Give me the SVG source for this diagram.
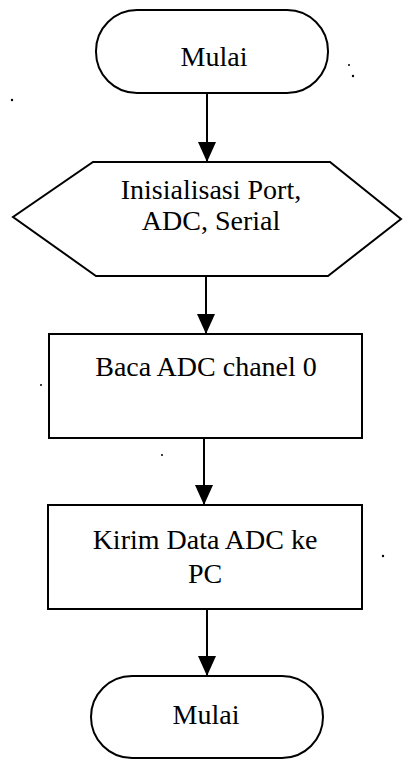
<svg xmlns="http://www.w3.org/2000/svg" width="403" height="761" viewBox="0 0 403 761">
<style>
.shape{fill:#fff;stroke:#000;stroke-width:2}
.lbl{font-family:"Liberation Serif","Times New Roman",serif;font-size:28px;fill:#000;text-anchor:middle}
.conn{stroke:#000;stroke-width:2;fill:none}
.speck{fill:#000}
</style>
<defs>
<marker id="ah" markerUnits="userSpaceOnUse" markerWidth="20" markerHeight="18" refX="20" refY="9" orient="auto">
<path d="M0,0 L20,9 L0,18 Z" fill="#000"/>
</marker>
</defs>
<rect width="403" height="761" fill="#fff"/>
<g id="start">
<rect class="shape" x="96" y="10" width="232" height="83" rx="41" ry="41"/>
<text class="lbl" x="214" y="66">Mulai</text>
</g>
<g id="init">
<polygon class="shape" points="93,162 330,162 401,219 328,276 96,276 13,217"/>
<text class="lbl" x="211" y="199">Inisialisasi Port,</text>
<text class="lbl" x="211" y="230">ADC, Serial</text>
</g>
<g id="read">
<rect class="shape" x="49" y="334" width="313" height="104"/>
<text class="lbl" x="206" y="376">Baca ADC chanel 0</text>
</g>
<g id="send">
<rect class="shape" x="48" y="505" width="314" height="104"/>
<text class="lbl" x="205" y="549">Kirim Data ADC ke</text>
<text class="lbl" x="205" y="583">PC</text>
</g>
<g id="end">
<rect class="shape" x="91" y="676" width="232" height="82" rx="41" ry="41"/>
<text class="lbl" x="206" y="724">Mulai</text>
</g>
<g id="connectors">
<line class="conn" x1="207" y1="93" x2="207" y2="162" marker-end="url(#ah)"/>
<line class="conn" x1="206" y1="276" x2="206" y2="334" marker-end="url(#ah)"/>
<line class="conn" x1="204" y1="438" x2="204" y2="505" marker-end="url(#ah)"/>
<line class="conn" x1="207" y1="609" x2="207" y2="676" marker-end="url(#ah)"/>
</g>
<g id="specks">
<circle class="speck" cx="349" cy="65" r="1"/>
<circle class="speck" cx="353" cy="76" r="1.2"/>
<circle class="speck" cx="12" cy="100" r="1.2"/>
<circle class="speck" cx="41" cy="385" r="1"/>
<circle class="speck" cx="162" cy="455" r="1"/>
<circle class="speck" cx="383" cy="556" r="1.2"/>
</g>
</svg>
